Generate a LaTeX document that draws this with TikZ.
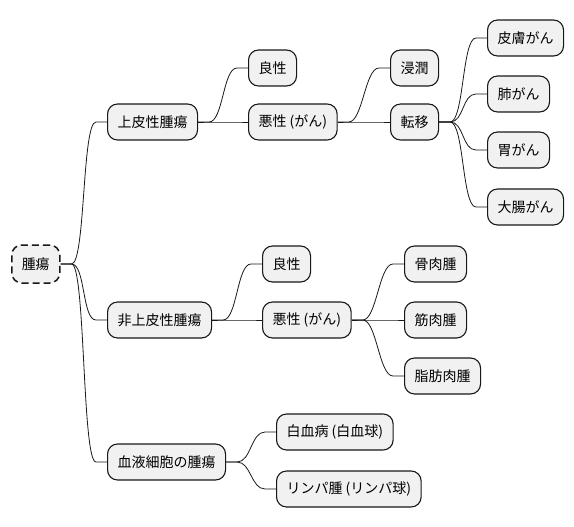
\documentclass[tikz,border=0pt]{standalone}
\usepackage{fontspec}
\newfontfamily\jpfont{Noto Sans CJK JP}
\usetikzlibrary{positioning, calc}
\definecolor{boxfill}{HTML}{F1F1F1}
\definecolor{boxline}{HTML}{181818}

\begin{document}
\begin{tikzpicture}[
    x=1pt, y=-1pt,
    box/.style={draw=boxline, fill=boxfill, rounded corners=10pt, line width=1.1pt,
                minimum height=36pt, inner xsep=10pt, inner ysep=0pt, anchor=west,
                font=\jpfont\fontsize{14}{16}\selectfont},
    rootbox/.style={box, line width=1.5pt, dash pattern=on 7pt off 4pt, minimum height=38pt},
    branch/.style={to path={-- ++(11,0) .. controls +(14,0) and +(-14,0)
                   .. ([xshift=-11pt]\tikztotarget) -- (\tikztotarget)}},
    line width=0.8pt
]
\useasboundingbox (0,0) rectangle (574,527);

% root
\node[rootbox] (root) at (11,264) {腫瘍};

% first level
\node[box] (epi)    at (107,122) {上皮性腫瘍};
\node[box] (nonepi) at (107,320) {非上皮性腫瘍};
\node[box] (blood)  at (107,462) {血液細胞の腫瘍};

% epithelial branch
\node[box] (epiBen) at (248,68)  {良性};
\node[box] (epiMal) at (248,122) {悪性 (がん)};
\node[box] (invade) at (390,68)  {浸潤};
\node[box] (meta)   at (390,122) {転移};
\node[box] (skin)   at (487,38)  {皮膚がん};
\node[box] (lung)   at (487,94)  {肺がん};
\node[box] (stom)   at (487,150) {胃がん};
\node[box] (colon)  at (487,207) {大腸がん};

% non-epithelial branch
\node[box] (nonBen) at (262,264) {良性};
\node[box] (nonMal) at (262,320) {悪性 (がん)};
\node[box] (osteo)  at (404,264) {骨肉腫};
\node[box] (myo)    at (404,320) {筋肉腫};
\node[box] (lipo)   at (404,376) {脂肪肉腫};

% blood cell branch
\node[box] (leuk)   at (276,432) {白血病 (白血球)};
\node[box] (lymph)  at (276,489) {リンパ腫 (リンパ球)};

\foreach \a/\b in {root/epi, root/nonepi, root/blood,
                   epi/epiBen, epi/epiMal, epiMal/invade, epiMal/meta,
                   meta/skin, meta/lung, meta/stom, meta/colon,
                   nonepi/nonBen, nonepi/nonMal,
                   nonMal/osteo, nonMal/myo, nonMal/lipo,
                   blood/leuk, blood/lymph}
    \draw[boxline] (\a.east) to[branch] (\b.west);
\end{tikzpicture}
\end{document}
